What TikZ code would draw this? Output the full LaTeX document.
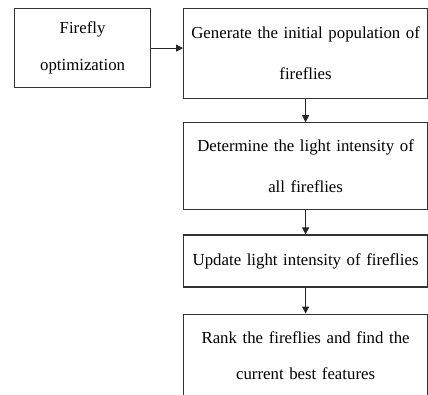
\documentclass[tikz,border=0pt]{standalone}
\usepackage{fontspec}
\setmainfont{Liberation Serif}
\usetikzlibrary{arrows.meta}
\usetikzlibrary{positioning}

\begin{document}
\begin{tikzpicture}[
			x=1pt,y=1pt,
			A/.style={rectangle,draw=black!80,line width=1.2pt,minimum width=136pt,minimum height=79pt,align=center,inner sep=2pt,font=\fontsize{16.8}{37}\selectfont},
			B/.style={rectangle,draw=black!80,line width=1.2pt,minimum width=244pt,text width=238pt,align=center,inner sep=2pt,font=\fontsize{16.8}{41}\selectfont},
			Arr/.style={-{Triangle[length=7pt,width=7pt]},line width=1pt,black!85},
			]
			
			%bounding box
			\useasboundingbox (0,0) rectangle (428,-394);
			
			%boxes
			\node[A,anchor=north west] (Firefly) at (14,-8) {Firefly\\optimization};
			\node[B,minimum height=90pt,anchor=north west] (Generate) at (183,-8) {Generate the initial population of\\fireflies};
			\node[B,minimum height=87pt] (Determine) [below=23pt of Generate] {Determine the light intensity of\\all fireflies};
			\node[B,minimum height=52pt] (Update) [below=24pt of Determine] {Update light intensity of fireflies};
			\node[B,minimum height=83pt,font=\fontsize{16.8}{36}\selectfont] (Rank) [below=26pt of Update] {Rank the fireflies and find the\\current best features\\[-4pt]};
			
			%arrows
			\draw[Arr] (Firefly.east) -- (Firefly.east -| Generate.west);
			\foreach \a/\b in {Generate/Determine,Determine/Update,Update/Rank}
			{
				\draw[Arr] (\a) -- (\b);
			}
			
	\end{tikzpicture}
\end{document}
